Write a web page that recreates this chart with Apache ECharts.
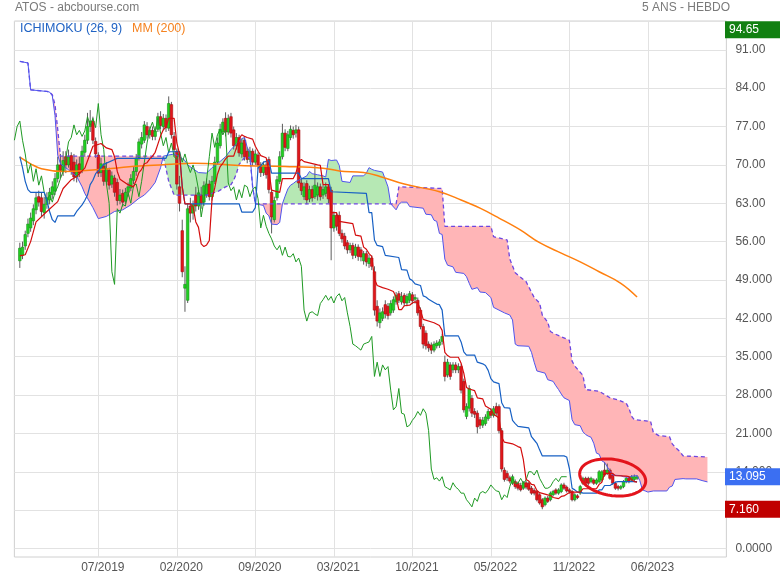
<!DOCTYPE html>
<html><head><meta charset="utf-8">
<script src="https://cdn.jsdelivr.net/npm/echarts@6/dist/echarts.min.js"></script>
<style>html,body{margin:0;padding:0;background:#fff}#c{width:780px;height:580px}</style>
</head><body><div id="c"></div>
<script>
// ---- axes ----
const slotCount = 264;                       // weekly slots (incl. 26 weeks of projected cloud)
const tickIndex = [31,60,89,118,147,176,205,234];
const tickLabels = ['07/2019','02/2020','09/2020','03/2021','10/2021','05/2022','11/2022','06/2023'];
const yTicks = [0,7,14,21,28,35,42,49,56,63,70,77,84,91];
const yTickLabels = ['0.0000','7.0000','14.000','21.000','28.000','35.000','42.000','49.000','56.00','63.00','70.00','77.00','84.00','91.00'];

// ---- weekly candles [open, close, low, high], first one at slot firstCandle ----
const firstCandle = 2;
const ohlc = [
[52.5,54.8,51.2,55.8],[53.5,55,52.8,56],[55.2,57.3,54.5,58],[57.5,59.2,56.8,60.2],[58.5,60.3,57.8,61.3],
[59.8,62,59,62.8],[61.8,64,61,65],[64.2,63.2,62.4,65.3],[64,61.5,60.5,65],[61.3,62.8,60.2,64.2],
[62.8,64,62,65],[63.6,65,62.8,65.8],[64.6,66,63.8,67],[65.2,67.5,64.5,68.5],[67.5,70,66.8,71.5],
[70,69,67.5,72],[68.8,70.8,68,72.5],[71.5,70,68.5,72.5],[70,71.5,69.5,72.8],[71.7,69,68.2,72.3],
[70.5,67.8,67,72],[67.8,70,66.8,71],[70.2,68.5,67.8,71.5],[69,72.5,68.5,73.5],[72.3,74.5,71.5,75.5],
[74.5,77,73.8,79.5],[77,78,76,80],[78,74.5,73.8,78.8],[74.3,72,71.3,75],[71.8,68.5,67.8,72.3],
[68.6,70.2,67.8,71.3],[69.8,67,66.2,70.3],[67,69.3,66.3,70.5],[69,66.3,65.5,69.5],[66.5,68,65.8,68.8],
[67.6,65,64.2,68.2],[66.8,63.5,62.6,67.5],[63.5,64.5,62.8,65.6],[64.8,63.2,62.4,65.5],[63.4,65,62.8,65.8],
[65,66,64.2,66.8],[65.8,67.5,65.2,68.3],[67.2,68.8,66.5,69.6],[68.8,71.2,68,72],[71.3,74.2,70.8,74.8],
[73.8,75,73,76],[74.5,77.3,74,78],[77,75.5,74.8,77.8],[75.5,76.3,74.8,77],[76.3,75.2,74.5,77],
[75.2,76.2,74.5,77],[76.5,78.8,76,79.5],[78.8,77.2,76.5,79.8],[77,78.5,76.3,79.3],[78.5,76.8,76,79.2],
[76.7,81.2,76.2,82.5],[81,75.5,74.8,81.5],[75.2,72.8,71.5,76],[72.5,66.5,65.5,73],[66,63,61.5,68],
[58,50.5,49.5,60],[47.5,48.2,43.2,51.5],[45.3,62,44.8,63],[62.5,61.2,59.5,64],[61.2,62.8,60,63.5],
[64.5,62.5,61.5,66],[62.5,64.9,61.8,65.5],[64.5,63,62,66],[63.2,66.2,62.5,67],[64.5,66.5,64,67.5],
[66.5,64.2,63.5,67.2],[64.2,67,63.5,68],[67,70.5,66.5,71.5],[70.5,74,70,75],[73.5,76.5,73,77.5],
[76,77.8,75.5,78.5],[78.5,76,75.2,79.6],[76,78.5,75.5,79.2],[78.8,75.8,75,79.5],[76.4,73.5,72.8,77],
[73.5,75,72.8,75.8],[75,72.2,71.5,75.5],[72,74,71.3,74.8],[74.5,71.5,70.8,75],[72.5,71,70.3,73.2],
[71,72.5,70.5,73.3],[72.5,70.5,69.8,73],[70.5,72,70,72.8],[71.8,70,69.2,72.3],[70,68.6,67.8,70.5],
[68.6,70,68,70.6],[70,68.2,67.5,70.5],[71,65.5,64.8,71.5],[65,60.5,57.5,65.5],[60,63.5,59.5,64.2],
[64,67.3,63.5,68],[67,71.5,66.5,72.5],[71.5,75.8,71,77.5],[75.8,73.2,72.5,76.5],[73,75.5,72.5,76.2],
[75,76.5,74.5,77.2],[76.3,75.5,74.8,77],[75.8,76.4,75,77.3],[76.4,66.7,65.8,77],[66.7,65.3,64.5,67.5],
[64.2,66,63.6,66.8],[66.6,63.6,62.8,67.2],[63.8,65.5,63.2,66.2],[65.5,64,63.3,66.2],[64.2,66.3,63.8,70],
[64.5,66,63.5,66.8],[66,64.2,63.5,66.6],[64.5,65.5,63.8,66.3],[64.8,66,64.2,66.8],[66,63.8,63,66.5],
[65.4,58.5,52.6,66],[58.5,60.8,57.8,61.5],[60.8,58.8,58,61.3],[60.8,57.5,57,61.5],[57.5,56.5,55.8,58.2],
[57,55.2,54.6,57.6],[55.8,54.5,53.8,56.3],[54.5,55.3,53.9,55.8],[55.3,53.5,52.8,55.8],[53.5,55,53,55.6],
[55,53.3,52.5,55.5],[54.5,53.2,52.4,55],[52.5,53.8,51.8,54.3],[53.8,52.3,51.5,54.3],[52,53,51.2,53.6],
[53,51.5,50.8,53.5],[50.5,43.5,42.5,51.5],[44.2,41.5,40.5,45.3],[41.2,43,40.2,43.8],[42,43.2,41.5,44],
[44.5,42.8,42,45.3],[44.2,42.5,41.8,44.8],[43,44.7,42.5,45.3],[43.5,45.4,43,46],[45,46.2,44.5,46.8],
[46.5,45.3,44.8,47],[45,46,44.5,46.8],[46.2,44.8,44.2,46.6],[44.8,46,44.2,46.5],[45.3,46.5,44.8,47],
[46.3,45.2,44.6,46.8],[45.5,45.8,44.7,46.4],[45.3,43,42.5,45.8],[43.5,40.5,40,44],[40.5,37.3,36.5,41],
[39.3,37,36.3,39.8],[37.3,36.6,35.9,37.8],[37.1,36.2,35.5,37.6],[36.2,37.3,35.8,37.8],[37,37.5,36.5,38],
[37.1,37.7,36.6,38.2],[37.8,38.7,37.2,39.2],[34,31.4,30.5,35.2],[31.7,34,31.2,34.6],[33.5,31.4,30.8,34],
[32.6,33.5,32,34],[33.5,32.6,32,34],[32.6,33.2,32,33.8],[33.2,28.9,28.3,33.6],[30.5,25.3,24.8,31],
[24.1,25.9,23.6,26.5],[25.6,29.2,25,29.8],[27.4,24.7,24,28],[25,24.5,23.8,25.6],[24.7,22.2,21,25.2],
[23.5,22.5,21.8,24],[22.5,23.4,22,24],[22.8,24,22.4,24.5],[23.7,25,23.3,25.5],[25,24.3,23.8,25.6],
[24.3,25.5,23.9,26],[25.9,24.7,24.2,26.6],[25.9,21.5,21,26.3],[21.5,14.5,14,22],[14.3,12.6,12.2,14.8],
[13.7,12.9,12.3,14.2],[12.9,12.3,11.9,13.3],[11.9,13.1,11.6,13.5],[12.2,11.3,10.9,12.6],[11.9,11,10.6,12.2],
[11.5,10.7,10.4,12],[11,12,10.7,12.3],[12,11.2,10.8,12.4],[11.9,10.8,10.5,12.2],[11,10.1,9.8,11.4],
[10.6,10.1,9.7,11],[10.4,8.9,8.6,10.6],[9.8,8.3,8,10.1],[8.9,7.6,7.16,9.2],[8,9.2,7.7,9.5],
[9.2,8.6,8.3,9.6],[8.9,10.1,8.6,10.4],[9.8,10.4,9.5,10.7],[10.7,10.1,9.8,11],[10.1,10.7,9.8,11],
[10.4,11.6,10.1,11.9],[11.6,11,10.7,12],[11.2,10.5,10.2,11.5],[10.7,10.4,10,11],[10.4,8.9,8.6,10.7],
[8.9,9.8,8.6,10.1],[9.6,9.3,9,9.9],[10.1,11.3,9.8,11.6],[11.9,12.8,11.6,13.1],[12.8,11.9,11.6,13.1],
[12.8,11.9,11.5,13.1],[12.2,12.8,11.9,13.1],[12.5,11.9,11.6,12.8],[11.9,12.5,11.6,12.8],[12.2,14,11.9,14.3],
[12.5,14,12.2,14.3],[14.3,13.4,13.1,15.8],[13.7,14.3,13.4,15.5],[14.3,12.8,12.5,14.6],[13.4,11.9,11.6,13.7],
[11.9,11,10.7,12.2],[11.3,11,10.6,11.6],[11,11.3,10.7,11.6],[11.3,12.2,11,12.5],[12.2,12.8,11.9,13.1],
[12.8,12.2,11.9,13.1],[12.5,13.1,12.2,13.4],[12.6,13.1,12.3,13.5],[12.8,13.095,12.5,13.4]
];

// ---- Ichimoku lines, as [slot, value] vertices ----
const tenkan = [[2,53.4],[4,53.6],[6,56],[8,59.6],[12,61.5],[16,63.3],[18,65.7],[21,67.3],[23,67.9],[26,69.4],[29,73.4],[32,73.9],[34,73.1],[36,72.8],[37,71.5],[38,68.8],[39,67.4],[42,66.4],[44,66],[45,67.2],[46,68.6],[47,69.2],[48,70.2],[49,70.4],[50,71.1],[51,71.6],[52,72.3],[53,73.8],[54,75.3],[55,76.4],[56,76.9],[57,78.5],[59,78.5],[60,74],[61,72],[62,66],[63,62.9],[65,62.9],[66,62.4],[67,59.6],[68,58.6],[69,55.6],[70,55.1],[71,55.4],[72,56.2],[73,63.8],[74,65.8],[75,68.3],[76,69.7],[77,70.3],[78,71.1],[79,71.6],[81,71.6],[82,73.1],[83,74.8],[84,75.5],[85,75.2],[86,75],[88,74.7],[89,73.4],[90,72.5],[91,71.7],[93,71.3],[94,69],[95,65.4],[98,65],[99,67.5],[103,67.5],[104,68.5],[105,70.5],[106,71],[107,70.6],[112,70],[113,69.9],[114,66.4],[116,66.4],[117,61.3],[119,61.3],[120,59.7],[125,59.3],[126,57.2],[128,57],[129,55],[130,54.6],[131,53.8],[132,53.3],[133,49.2],[134,48],[136,47.6],[138,47.3],[140,46.9],[141,45.9],[142,43.6],[143,43.6],[144,44.3],[146,44.4],[147,44.8],[148,45],[149,44.8],[150,43.5],[151,41.8],[155,41.2],[157,40.7],[158,39.8],[159,35.8],[160,35.2],[161,34.9],[164,34.9],[165,33.8],[166,32],[167,29.4],[168,29.1],[170,28.8],[171,27.5],[173,27.3],[174,26],[176,25.4],[177,24.5],[179,23.8],[180,20.3],[181,19.4],[184,19.1],[186,18.6],[187,18.4],[188,16.2],[189,12.6],[190,12.3],[191,11.7],[192,11.6],[193,10.6],[194,10.2],[197,9.8],[198,9.7],[199,9.3],[201,9.1],[202,9.5],[203,9.6],[204,9.9],[205,10.2],[206,10.3],[209,10.3],[210,10.9],[215,10.9],[216,11.7],[217,12.1],[218,13.7],[221,13.7],[222,13.3],[226,13.2],[227,13.1],[228,12.6],[229,12.2],[230,12.1]];
const kijun = [[2,71.5],[3,69.5],[4,67],[5,65.5],[6,65],[11,65],[12,63.5],[13,61.5],[14,60],[15,59.5],[16,60.7],[22,60.7],[23,61.5],[25,62.7],[26,63.5],[27,64.5],[28,66.4],[29,67.2],[30,68.4],[31,68.9],[32,69.5],[33,70.1],[37,71],[38,71.2],[56,71.2],[57,72.4],[61,72.4],[62,66],[63,62.9],[83,62.9],[84,61.4],[88,61.4],[89,62.2],[90,69.5],[91,69.8],[92,70.5],[94,70.8],[95,68.5],[105,68.5],[106,67.5],[116,67.5],[117,65.1],[130,64.8],[131,61.3],[132,61.3],[133,56.3],[134,55.3],[136,55.1],[137,53.5],[142,53.1],[143,50.9],[145,50.8],[146,49.2],[147,48.9],[148,48.3],[150,48],[151,46.1],[152,45.9],[153,45.5],[155,44.9],[156,44.6],[157,44.5],[158,43.5],[159,38.8],[164,38.8],[165,37.7],[166,35.9],[167,35.3],[170,35.3],[171,34],[173,33.7],[174,33.4],[175,32.5],[176,31],[177,30.4],[179,30.1],[180,26.6],[181,25.7],[183,25.6],[184,23.4],[185,22.8],[186,22.3],[190,22],[191,20.4],[192,19.8],[193,19.2],[194,18],[195,16.9],[203,16.9],[204,16.7],[205,14.6],[206,11],[207,10.7],[208,10.3],[209,10.3],[210,10.1],[215,10.1],[216,10.7],[217,10.7],[218,11.5],[220,11.5],[221,11.8],[222,12.1],[223,12.2],[230,12.2]];
const spanA = [[2,88.9],[5,88.6],[6,83.7],[12,83.4],[13,83.3],[14,82.6],[15,79],[16,71.8],[17,70.2],[20,69.1],[23,67.9],[25,66],[26,64.8],[29,62.2],[31,60.2],[34,60.6],[37,61.5],[40,61.8],[43,62.7],[46,63.9],[48,64.5],[50,65.5],[52,66.8],[54,69.5],[55,71.6],[57,71.8],[59,72],[61,71.5],[63,70.8],[64,70],[66,69.3],[68,68.6],[71,68.5],[73,69.5],[75,70.2],[78,71.5],[80,72.8],[82,73.8],[84,74.8],[85,75],[86,73.2],[87,72.2],[88,66],[89,62.9],[92,62.6],[93,61.2],[94,60.7],[95,59.2],[97,59.1],[98,59.5],[99,62.9],[100,64.3],[101,65.6],[102,66.3],[103,66.6],[104,67],[105,67.2],[108,68],[109,68.8],[110,68.4],[112,68.2],[114,68],[115,67.8],[116,71],[117,70.8],[119,70.9],[120,69.9],[121,67],[124,66.8],[125,68],[129,68],[130,68.5],[131,69.5],[132,69.2],[133,69],[136,68.7],[138,66],[139,62.9],[141,61.8],[142,62.8],[143,63.2],[145,63.2],[146,62.4],[151,62.1],[152,61],[154,60.9],[155,59.9],[156,59.7],[157,57.5],[158,57.3],[159,52.8],[160,51.7],[162,51.4],[163,50.4],[166,50.2],[167,49.6],[168,48.4],[169,47.3],[171,47.6],[172,46.8],[174,46.7],[176,45.8],[177,44],[179,43.5],[181,43],[183,42.6],[184,41.7],[185,37.3],[186,37],[190,36.9],[191,35.8],[192,34],[193,32.4],[196,32],[197,30.8],[199,30.5],[200,29.7],[201,29],[202,28.2],[203,27.5],[205,27],[206,23.5],[207,22.6],[209,22.4],[210,21.3],[211,20.8],[212,20.5],[213,20.3],[214,19.2],[215,17.4],[216,17.2],[217,16],[218,15.7],[219,14.9],[220,14.1],[221,13.4],[224,13.3],[225,13.1],[227,13],[228,13.2],[230,13.3],[231,12.4],[232,10.7],[233,10.5],[234,10.3],[236,10.5],[241,10.5],[242,11.2],[243,11.4],[244,12.6],[247,12.75],[248,12.7],[252,12.7],[254,12.4],[256,12.15]];
const spanB = [[2,88.9],[5,88.6],[6,83.7],[12,83.4],[13,83.3],[14,82.8],[15,81],[16,76.5],[17,71.6],[55,71.6],[57,67],[59,64.5],[71,64.5],[75,65.1],[78,66],[80,66.4],[81,67.2],[82,68.4],[83,70.1],[84,70.7],[85,71.35],[87,71.35],[88,66],[89,62.9],[99,62.9],[139,62.9],[141,62.9],[142,66],[158,65.7],[159,58.8],[176,58.8],[177,56.9],[182,56.3],[183,52.8],[185,50.3],[189,48.7],[192,45.8],[194,44.8],[195,42.6],[197,41.3],[198,39.6],[199,39.3],[205,38],[206,34.2],[207,33.3],[210,31.6],[211,29],[216,28.7],[219,27.8],[220,27.5],[223,27.1],[226,26.5],[227,25.6],[228,24.1],[229,23.5],[235,23.2],[236,21.2],[238,20.6],[242,20.4],[243,19.1],[244,18.5],[246,17.6],[247,16.9],[256,16.7]];
// cloud pieces between crossings: [fromSlot, toSlot, kind]
const cloudSegments = [[12,55,'bear'],[55,88,'bull'],[88,99,'bear'],[99,139,'bull'],[139,256,'bear']];
const chikouShift = 26;

// ---- moving average 200 ----
const mm200 = [[2,71.4],[6,70.2],[10,69.3],[18,68.8],[30,69.1],[46,69.8],[58,70.1],[66,70.3],[83,69.9],[100,69.7],[114,69.4],[120,68.9],[129,68.6],[135,67.9],[144,66.5],[157,65.1],[165,63.6],[172,62.1],[179,60.3],[187,58.1],[194,55.8],[202,53.9],[209,52.3],[216,50.5],[224,48.4],[230,45.9]];

// ---- markers ----
const lastPrice = 13.095, highPrice = 94.65, lowPrice = 7.16;
const annotation = [221, 12.96];      // centre of the red ellipse (slot, value)
const annotationSize = [12.3, 3.3];   // half-width in slots, half-height in value units

const categories = Array.from({length: slotCount}, (_, i) => String(i));
const FONT = "'Liberation Sans', Arial, sans-serif";
const chart = echarts.init(document.getElementById('c'), null, {renderer: 'canvas'});

const candleData = ohlc.map((r, k) => [firstCandle + k, r[0], r[1], r[2], r[3]]);
const chikou = ohlc.map((r, k) => [firstCandle + k - chikouShift, r[1]]).filter(p => p[0] >= 0);

function lineSeries(name, data, color, width, extra) {
  return Object.assign({
    name, type: 'line', xAxisIndex: 1, yAxisIndex: 1, data, showSymbol: false, symbol: 'none',
    lineStyle: {color, width}, z: 4, silent: true, animation: false
  }, extra || {});
}

chart.setOption({
  animation: false,
  backgroundColor: '#ffffff',
  grid: [
    {left: 14.4, right: 53.6, top: 21, bottom: 23, show: true, borderColor: '#d0d0d0', borderWidth: 1, backgroundColor: 'transparent'},
    {left: 14.4, right: 53.6, top: 21, bottom: 31.5}
  ],
  xAxis: [
    {gridIndex: 0, type: 'category', data: categories, boundaryGap: false,
     axisLine: {show: false}, axisTick: {show: false},
     axisLabel: {interval: (i) => tickIndex.includes(i), formatter: (v, i) => {const k = tickIndex.indexOf(Number(v)); return k >= 0 ? tickLabels[k] : '';},
                 color: '#555', fontSize: 12, fontFamily: FONT, margin: 5, padding: [0, 0, 0, 9]},
     splitLine: {show: true, interval: (i) => tickIndex.includes(i), lineStyle: {color: '#e2e2e2', width: 1}}},
    {gridIndex: 1, type: 'category', data: categories, boundaryGap: false, show: false}
  ],
  yAxis: [
    {gridIndex: 0, type: 'value', min: 0, max: 1, show: false},
    {gridIndex: 1, type: 'value', position: 'right', min: 0, max: 96.26, interval: 7,
     axisLine: {show: false}, axisTick: {show: false},
     splitLine: {show: true, lineStyle: {color: '#e2e2e2', width: 1}},
     axisLabel: {margin: 9, color: '#555', fontSize: 12, fontFamily: FONT, showMaxLabel: false,
                 formatter: (v) => {const k = yTicks.indexOf(Math.round(v)); return (k >= 0 && Math.abs(v - Math.round(v)) < 1e-6) ? yTickLabels[k] : '';}}}
  ],
  series: [
    {type: 'custom', name: 'cloud', xAxisIndex: 1, yAxisIndex: 1, z: 1, silent: true,
     data: cloudSegments.map((s, k) => [s[0], 50, k]), encode: {x: 0, y: 1},
     renderItem: (params, api) => {
       const seg = cloudSegments[api.value(2)];
       const a = spanA.filter(p => p[0] >= seg[0] && p[0] <= seg[1]).map(p => api.coord(p));
       const b = spanB.filter(p => p[0] >= seg[0] && p[0] <= seg[1]).reverse().map(p => api.coord(p));
       return {type: 'polygon', shape: {points: a.concat(b)},
               style: {fill: seg[2] === 'bear' ? '#ffb5b7' : '#b6e8b4', stroke: 'none'}};
     }},
    {type: 'custom', name: 'candles', xAxisIndex: 1, yAxisIndex: 1, z: 3, silent: true,
     data: candleData, encode: {x: 0, y: [1, 2, 3, 4]},
     renderItem: (params, api) => {
       const i = api.value(0), o = api.value(1), c = api.value(2), l = api.value(3), h = api.value(4);
       const pO = api.coord([i, o]), pC = api.coord([i, c]), pL = api.coord([i, l]), pH = api.coord([i, h]);
       const w = api.size([1, 0])[0] * 0.95;
       const up = c >= o;
       const top = Math.min(pO[1], pC[1]), bot = Math.max(pO[1], pC[1]);
       return {type: 'group', children: [
         {type: 'line', shape: {x1: pL[0], y1: pL[1], x2: pH[0], y2: pH[1]}, style: {stroke: '#5c5c5c', lineWidth: 1}},
         {type: 'rect', shape: {x: pO[0] - w / 2, y: top, width: w, height: Math.max(bot - top, 1)},
          style: {fill: up ? '#21cf21' : '#e2161b', stroke: up ? '#16921a' : '#a50d10', lineWidth: 0.6}}
       ]};
     }},
    lineSeries('spanB', spanB, '#6d46e0', 1.2, {lineStyle: {color: '#6d46e0', width: 1.3, type: [4, 3]}}),
    lineSeries('spanA', spanA, '#4f55ee', 1),
    lineSeries('mm200', mm200, '#ff7f0e', 1.5, {smooth: 0.4}),
    lineSeries('chikou', chikou, '#1f9a24', 1),
    lineSeries('kijun', kijun, '#1760c4', 1.2),
    lineSeries('tenkan', tenkan, '#d40d0d', 1.2),
    {type: 'custom', name: 'annotation', xAxisIndex: 1, yAxisIndex: 1, z: 6, silent: true,
     data: [annotation], encode: {x: 0, y: 1},
     renderItem: (params, api) => {
       const c = api.coord([api.value(0), api.value(1)]);
       const rx = api.size([1, 0])[0] * annotationSize[0];
       const ry = Math.abs(api.coord([0, 0])[1] - api.coord([0, annotationSize[1]])[1]);
       const rot = 9 * Math.PI / 180, pts = [];
       for (let t = 0; t < 96; t++) {
         const th = t / 96 * Math.PI * 2;
         const x = rx * Math.cos(th), y = ry * Math.sin(th);
         pts.push([c[0] + x * Math.cos(rot) - y * Math.sin(rot), c[1] + x * Math.sin(rot) + y * Math.cos(rot)]);
       }
       return {type: 'polygon', shape: {points: pts}, style: {fill: 'none', stroke: '#e3141c', lineWidth: 3}};
     }}
  ]
});

// value badges on the price scale + titles/legend
function badge(value, color, text) {
  const y = chart.convertToPixel({yAxisIndex: 1}, value);
  return [
    {type: 'rect', shape: {x: 725, y: y - 8.5, width: 55, height: 17}, style: {fill: color}, z: 100},
    {type: 'text', x: 729, y: y, style: {text, fill: '#fff', font: '12px ' + FONT, verticalAlign: 'middle'}, z: 101}
  ];
}
chart.setOption({graphic: [
  {type: 'text', x: 15, y: 8, style: {text: 'ATOS - abcbourse.com', fill: '#7a7a7a', font: '12px ' + FONT, verticalAlign: 'middle'}},
  {type: 'text', x: 730, y: 8, style: {text: '5 ANS - HEBDO', fill: '#7a7a7a', font: '12px ' + FONT, align: 'right', verticalAlign: 'middle'}},
  {type: 'text', x: 20, y: 29, style: {text: 'ICHIMOKU (26, 9)', fill: '#2063c4', font: '12.5px ' + FONT, verticalAlign: 'middle'}, z: 50},
  {type: 'text', x: 132, y: 29, style: {text: 'MM (200)', fill: '#f5821f', font: '12.5px ' + FONT, verticalAlign: 'middle'}, z: 50},
  ...badge(highPrice, '#118011', '94.65'),
  ...badge(lastPrice, '#3b6ff2', '13.095'),
  ...badge(lowPrice, '#c00000', '7.160')
]});
</script>
</body></html>
